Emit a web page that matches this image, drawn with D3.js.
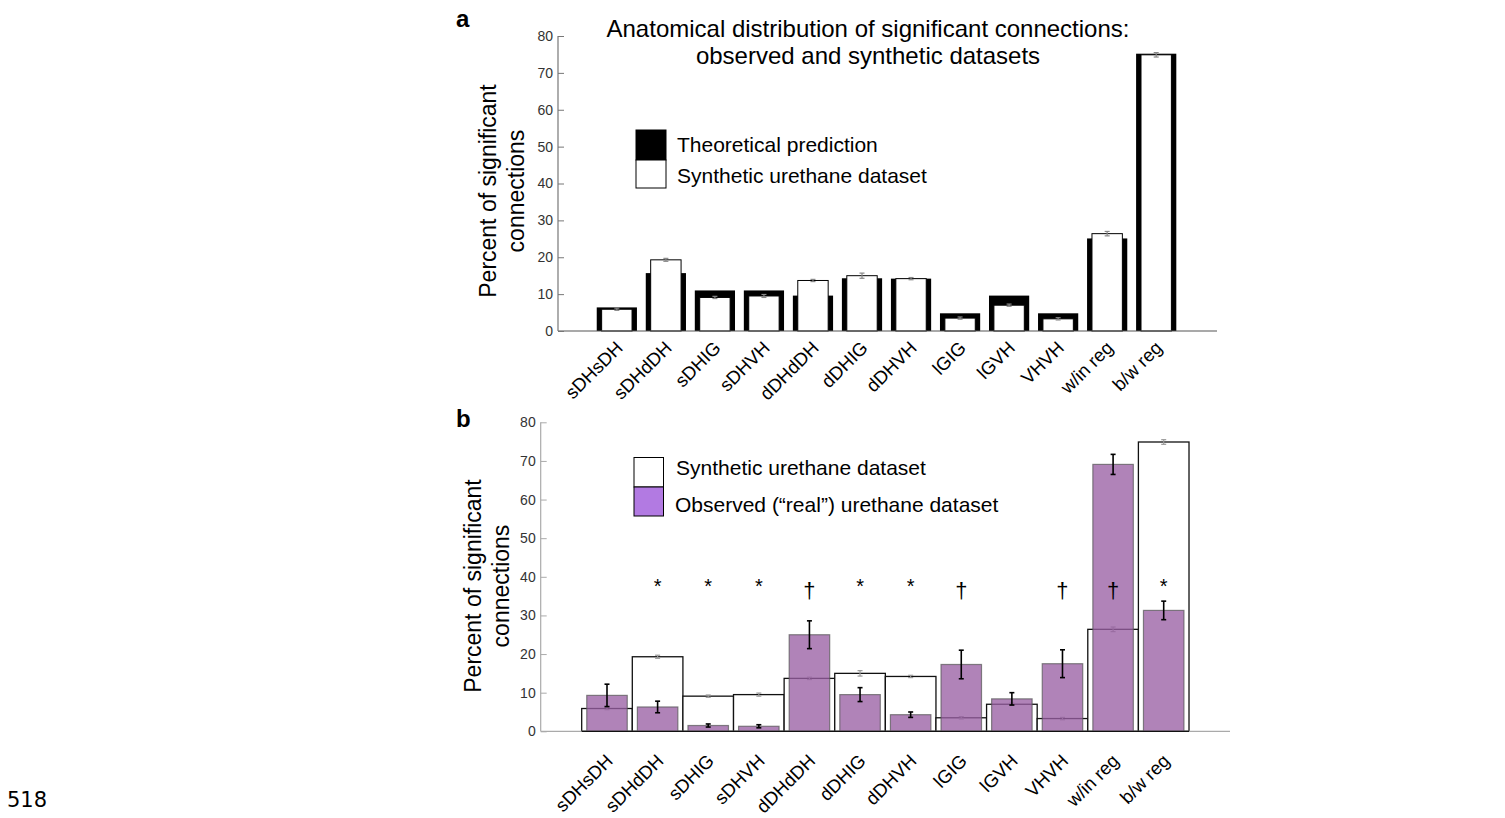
<!DOCTYPE html>
<html>
<head>
<meta charset="utf-8">
<script src="https://cdn.jsdelivr.net/npm/d3@7"></script>
<style>
  html, body { margin: 0; background: #fff; }
  svg { display: block; font-family: "Liberation Sans", Arial, sans-serif; }
</style>
</head>
<body>
<svg id="chart" width="1505" height="818"></svg>
<script>
// categories shared by both panels
const categories = ['sDHsDH', 'sDHdDH', 'sDHIG', 'sDHVH', 'dDHdDH', 'dDHIG', 'dDHVH', 'lGIG', 'lGVH', 'VHVH', 'w/in reg', 'b/w reg']

// panel a: theoretical prediction (black) and synthetic urethane dataset (white)
const theoretical = [6.4, 15.7, 11.0, 11.0, 9.6, 14.3, 14.2, 4.8, 9.6, 4.8, 25.1, 75.2]
const synthetic = [5.9, 19.3, 9.1, 9.5, 13.7, 15.0, 14.2, 3.5, 7.0, 3.3, 26.4, 74.9]
const syntheticErr = [0.3, 0.4, 0.3, 0.4, 0.3, 0.7, 0.3, 0.3, 0.3, 0.3, 0.6, 0.6]

// panel b: observed ("real") urethane dataset
const observed = [9.3, 6.3, 1.5, 1.3, 25.0, 9.5, 4.3, 17.3, 8.4, 17.5, 69.1, 31.3]
const observedErr = [2.9, 1.5, 0.4, 0.4, 3.6, 1.8, 0.7, 3.7, 1.6, 3.6, 2.6, 2.4]
const markers = ['', '*', '*', '*', '†', '*', '*', '†', '', '†', '†', '*']

const yTicks = [0, 10, 20, 30, 40, 50, 60, 70, 80]

const svg = d3.select('#chart')

// page number in the corner
svg.append('text').attr('x', 7).attr('y', 807).attr('font-size', 21)
	.attr('font-family', '"DejaVu Sans", sans-serif').text('518')

function yAxisGroup(g, y, left, tickColor) {
	const axis = g.append('g').attr('transform', `translate(${left},0)`)
		.call(d3.axisRight(y).tickValues(yTicks).tickSize(6).tickFormat(d3.format('d')))
	axis.select('.domain').attr('stroke', tickColor).attr('stroke-width', 1.2).attr('d', `M0,${y(80)}V${y(0)}`)
	axis.selectAll('.tick line').attr('stroke', tickColor)
	axis.selectAll('.tick text').attr('x', -5).attr('text-anchor', 'end')
		.attr('fill', '#333').attr('font-size', 14)
}

function yLabel(cx, cy) {
	const t = svg.append('text').attr('transform', `translate(${cx},${cy}) rotate(-90)`)
		.attr('text-anchor', 'middle').attr('font-size', 23).attr('fill', '#000')
	t.append('tspan').attr('x', 0).attr('dy', 0).text('Percent of significant')
	t.append('tspan').attr('x', 0).attr('dy', 28).text('connections')
}

function xLabels(g, x, baseY) {
	g.selectAll('text.cat').data(categories).join('text').attr('class', 'cat')
		.attr('transform', (d, i) => `translate(${x(i + 1) + 7},${baseY}) rotate(-45)`)
		.attr('text-anchor', 'end').attr('font-size', 18.5).attr('fill', '#000')
		.text(d => d)
}

function errBars(g, x, y, vals, errs, color, cap, width) {
	const e = g.append('g').attr('stroke', color).attr('stroke-width', width)
	vals.forEach((v, i) => {
		const cx = x(i + 1)
		e.append('line').attr('x1', cx).attr('x2', cx).attr('y1', y(v + errs[i])).attr('y2', y(v - errs[i]))
		e.append('line').attr('x1', cx - cap).attr('x2', cx + cap).attr('y1', y(v + errs[i])).attr('y2', y(v + errs[i]))
		e.append('line').attr('x1', cx - cap).attr('x2', cx + cap).attr('y1', y(v - errs[i])).attr('y2', y(v - errs[i]))
	})
}

// ---------- panel a ----------
{
	const x = d3.scaleLinear().domain([-0.2, 13.24]).range([558, 1217])
	const y = d3.scaleLinear().domain([0, 80]).range([331, 36])
	const step = x(2) - x(1)
	const g = svg.append('g')

	svg.append('text').attr('x', 456).attr('y', 27).attr('font-size', 24).attr('font-weight', 'bold').text('a')
	const title = svg.append('text').attr('text-anchor', 'middle').attr('font-size', 24)
	title.append('tspan').attr('x', 868).attr('y', 37).text('Anatomical distribution of significant connections:')
	title.append('tspan').attr('x', 868).attr('y', 64).text('observed and synthetic datasets')

	g.selectAll('rect.theo').data(theoretical).join('rect').attr('class', 'theo')
		.attr('x', (d, i) => x(i + 1) - step * 0.41).attr('width', step * 0.82)
		.attr('y', d => y(d)).attr('height', d => y(0) - y(d)).attr('fill', '#000')
	g.selectAll('rect.syn').data(synthetic).join('rect').attr('class', 'syn')
		.attr('x', (d, i) => x(i + 1) - step * 0.31).attr('width', step * 0.62)
		.attr('y', d => y(d)).attr('height', d => y(0) - y(d))
		.attr('fill', '#fff').attr('stroke', '#000').attr('stroke-width', 1)
	errBars(g, x, y, synthetic, syntheticErr, '#888', 2.5, 1.2)

	g.append('line').attr('x1', 558).attr('x2', 1217).attr('y1', y(0)).attr('y2', y(0))
		.attr('stroke', '#555').attr('stroke-width', 1.2)
	yAxisGroup(g, y, 558, '#777')
	xLabels(g, x, 349)
	yLabel(496, 191)

	// legend
	const lg = svg.append('g')
	lg.append('rect').attr('x', 636).attr('y', 130).attr('width', 30).attr('height', 30).attr('fill', '#000').attr('stroke', '#000')
	lg.append('rect').attr('x', 636).attr('y', 160).attr('width', 30).attr('height', 28).attr('fill', '#fff').attr('stroke', '#000')
	lg.append('text').attr('x', 677).attr('y', 152).attr('font-size', 21).text('Theoretical prediction')
	lg.append('text').attr('x', 677).attr('y', 183).attr('font-size', 21).text('Synthetic urethane dataset')
}

// ---------- panel b ----------
{
	const x = d3.scaleLinear().domain([-0.31, 13.31]).range([540.7, 1230])
	const y = d3.scaleLinear().domain([0, 80]).range([731.3, 422.3])
	const step = x(2) - x(1)
	const g = svg.append('g')

	svg.append('text').attr('x', 456).attr('y', 427).attr('font-size', 24).attr('font-weight', 'bold').text('b')

	// synthetic: full-width white bars
	g.selectAll('rect.syn').data(synthetic).join('rect').attr('class', 'syn')
		.attr('x', (d, i) => x(i + 1) - step / 2).attr('width', step)
		.attr('y', d => y(d)).attr('height', d => y(0) - y(d))
		.attr('fill', '#fff').attr('stroke', '#111').attr('stroke-width', 1.3)
	errBars(g, x, y, synthetic, syntheticErr, '#999', 2.5, 1.2)

	// observed: narrower translucent purple bars
	g.selectAll('rect.obs').data(observed).join('rect').attr('class', 'obs')
		.attr('x', (d, i) => x(i + 1) - step * 0.4).attr('width', step * 0.8)
		.attr('y', d => y(d)).attr('height', d => y(0) - y(d))
		.attr('fill', '#9a60a4').attr('fill-opacity', 0.78).attr('stroke', '#555').attr('stroke-opacity', 0.7).attr('stroke-width', 1.2)
	errBars(g, x, y, observed, observedErr, '#000', 2.5, 1.6)

	g.append('line').attr('x1', 540.7).attr('x2', 1230).attr('y1', y(0)).attr('y2', y(0))
		.attr('stroke', '#aaa').attr('stroke-width', 1.2)
	g.append('line').attr('x1', x(1) - step / 2).attr('x2', x(12) + step / 2).attr('y1', y(0)).attr('y2', y(0))
		.attr('stroke', '#111').attr('stroke-width', 1.3)
	yAxisGroup(g, y, 540.7, '#aaa')
	xLabels(g, x, 762)
	yLabel(481, 586)

	// significance markers
	g.selectAll('text.mk').data(markers).join('text').attr('class', 'mk')
		.attr('x', (d, i) => x(i + 1)).attr('y', d => d === '*' ? y(35.8) : y(34.6))
		.attr('text-anchor', 'middle').attr('font-size', d => d === '*' ? 20 : 22).text(d => d)

	const lg = svg.append('g')
	lg.append('rect').attr('x', 634).attr('y', 457.5).attr('width', 29.5).attr('height', 29.5).attr('fill', '#fff').attr('stroke', '#000')
	lg.append('rect').attr('x', 634).attr('y', 487).attr('width', 29.5).attr('height', 29).attr('fill', '#b27ae2').attr('stroke', '#000')
	lg.append('text').attr('x', 676).attr('y', 475).attr('font-size', 21).text('Synthetic urethane dataset')
	lg.append('text').attr('x', 675).attr('y', 512).attr('font-size', 21).text('Observed (“real”) urethane dataset')
}
</script>
</body>
</html>
